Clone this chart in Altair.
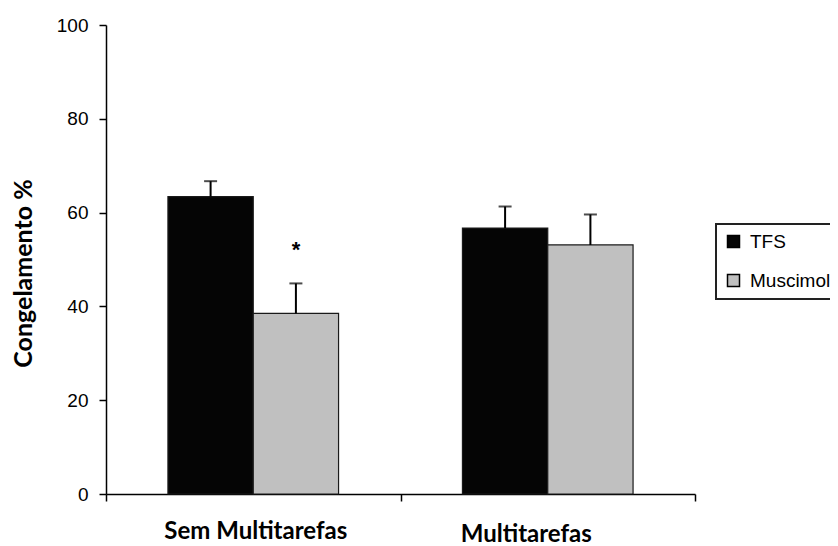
import altair as alt
import pandas as pd

# ---- data ----
groups = ["Sem Multitarefas", "Sem Multitarefas", "Multitarefas", "Multitarefas"]
treatments = ["TFS", "Muscimol", "TFS", "Muscimol"]
means = [63.4, 38.5, 56.7, 53.1]
sems = [3.3, 6.4, 4.6, 6.5]

group_order = ["Sem Multitarefas", "Multitarefas"]
treat_order = ["TFS", "Muscimol"]
treat_colors = ["#050505", "#c0c0c0"]

sig_group = ["Sem Multitarefas"]
sig_treat = ["Muscimol"]
sig_y = [53]
sig_text = ["*"]

df = pd.DataFrame({"group": groups, "treatment": treatments, "mean": means, "sem": sems})
df["upper"] = df["mean"] + df["sem"]
sig = pd.DataFrame({"group": sig_group, "treatment": sig_treat, "y": sig_y, "t": sig_text})

x_enc = alt.X(
    "group:N",
    sort=group_order,
    scale=alt.Scale(domain=group_order, paddingInner=0, paddingOuter=0),
    axis=alt.Axis(
        title=None,
        tickBand="extent",
        tickSize=7,
        tickColor="black",
        tickWidth=1.5,
        domainColor="black",
        domainWidth=1.5,
        labelAngle=0,
        labelFont="Lato",
        labelFontWeight="bold",
        labelFontSize=24,
        labelLimit=400,
        labelColor="black",
        labelBaseline="top",
        labelOffset={"condition": {"test": "datum.value == 'Multitarefas'", "value": -22}, "value": 2},
        labelPadding={"condition": {"test": "datum.value == 'Multitarefas'", "value": 21}, "value": 18},
    ),
)
xo_enc = alt.XOffset(
    "treatment:N",
    sort=treat_order,
    scale=alt.Scale(domain=treat_order, paddingOuter=0.726, paddingInner=0),
)

y_enc = alt.Y(
    "mean:Q",
    scale=alt.Scale(domain=[0, 100]),
    axis=alt.Axis(
        title="Congelamento %",
        values=[0, 20, 40, 60, 80, 100],
        grid=False,
        tickSize=7,
        tickColor="black",
        tickWidth=1.5,
        domainColor="black",
        domainWidth=1.5,
        labelFont="Liberation Sans",
        labelFontSize=19,
        labelColor="black",
        labelPadding=11,
        titleFont="Lato",
        titleFontWeight="bold",
        titleFontSize=25,
        titleColor="black",
        titleAngle=270,
        titleAlign="center",
        titleBaseline="middle",
        titleX=-83,
        titleY=248,
    ),
)

bars = alt.Chart(df).mark_bar(stroke="#1a1a1a", strokeWidth=1.2).encode(
    x=x_enc,
    xOffset=xo_enc,
    y=y_enc,
    color=alt.Color(
        "treatment:N",
        sort=treat_order,
        scale=alt.Scale(domain=treat_order, range=treat_colors),
        legend=alt.Legend(
            title=None,
            orient="none",
            legendX=610,
            legendY=199,
            symbolType="square",
            symbolSize=144,
            symbolStrokeColor="black",
            symbolStrokeWidth=1.5,
            labelFont="Liberation Sans",
            labelFontSize=19,
            labelColor="black",
            labelOffset=7,
            rowPadding=19,
            padding=8,
            strokeColor="#222",
            fillColor="white",
        ),
    ),
)

err = alt.Chart(df).mark_rule(color="black", strokeWidth=2).encode(
    x=alt.X("group:N", sort=group_order),
    xOffset=alt.XOffset("treatment:N", sort=treat_order),
    y="mean:Q",
    y2="upper:Q",
)

caps = alt.Chart(df).mark_tick(color="black", orient="horizontal", size=13, thickness=2).encode(
    x=alt.X("group:N", sort=group_order),
    xOffset=alt.XOffset("treatment:N", sort=treat_order),
    y="upper:Q",
)

star = alt.Chart(sig).mark_text(
    font="Liberation Sans", fontSize=22, fontWeight="bold", color="black", baseline="middle", dy=5
).encode(
    x=alt.X("group:N", sort=group_order),
    xOffset=alt.XOffset("treatment:N", sort=treat_order),
    y="y:Q",
    text="t:N",
)

chart = (
    alt.layer(bars, err, caps, star)
    .properties(
        width=589,
        height=469,
        autosize=alt.AutoSizeParams(type="none"),
        padding={"left": 98, "top": 17, "right": 135, "bottom": 52},
        background="white",
    )
    .configure_view(stroke=None)
    .configure_legend(strokeWidth=2)
)

chart.save("out.html", embed_options={"renderer": "svg", "actions": False})
